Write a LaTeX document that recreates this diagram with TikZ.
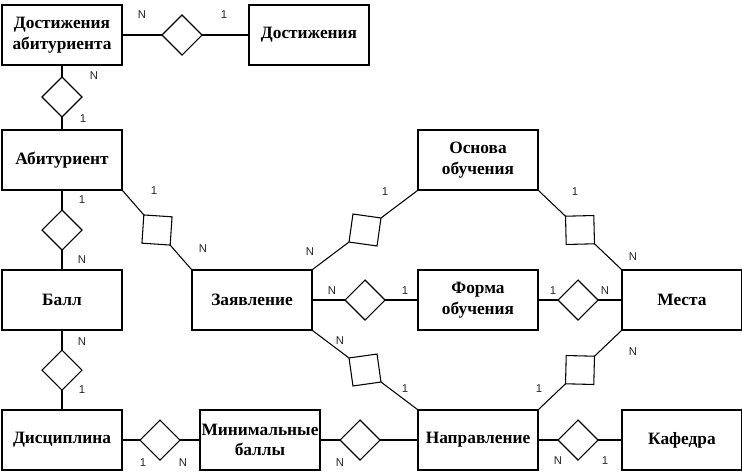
\documentclass[tikz,border=0pt]{standalone}
\usepackage{fontspec}
\setmainfont{Liberation Serif}
\newfontfamily\labelfont{Liberation Sans}
\usetikzlibrary{shapes,shapes.geometric,calc,positioning}

\tikzset{
	entity/.style={draw, line width=0.8pt, minimum width=90pt, minimum height=45pt, inner sep=0pt, align=center, font=\bfseries\fontsize{13}{15.5}\selectfont},
	rel/.style={draw, line width=0.8pt, diamond, aspect=1, minimum size=30pt, inner sep=0pt, outer sep=0pt},
	card/.style={font=\labelfont\fontsize{8.5}{10}\selectfont, text=black!85, inner sep=0pt},
	link/.style={line width=0.8pt}
}

\begin{document}
\begin{tikzpicture}[x=0.75pt, y=-0.75pt]
	\useasboundingbox (0,0) rectangle (742,475);
	% entities
	\node[entity] (da) at (62,35) {Достижения\\абитуриента};
	\node[entity] (dost) at (309,35) {Достижения};
	\node[entity] (abit) at (62,160) {Абитуриент};
	\node[entity] (ball) at (62,300) {Балл};
	\node[entity] (disc) at (62,440) {Дисциплина};
	\node[entity] (minb) at (260,440) {Минимальные\\баллы};
	\node[entity] (zayav) at (252,300) {Заявление};
	\node[entity] (osnova) at (478,160) {Основа\\обучения};
	\node[entity] (forma) at (478,300) {Форма\\обучения};
	\node[entity] (mesta) at (682,300) {Места};
	\node[entity] (naprav) at (478,440) {Направление};
	\node[entity] (kaf) at (682,440) {Кафедра};
	
	% relations
	\node[rel] (r1) at (182,35) {};
	\node[rel] (r2) at (62,97) {};
	\node[rel] (r3) at (62,230) {};
	\node[rel] (r4) at (62,370) {};
	\node[rel] (r5) at (160,440) {};
	\node[rel] (r6) at (360,440) {};
	\node[rel] (r7) at (578,440) {};
	\node[rel] (r8) at (365,300) {};
	\node[rel] (r9) at (578,300) {};
	\node[rel, rotate=-48.8] (r10) at (157,230) {};
	\node[rel, rotate=37] (r11) at (365,230) {};
	\node[rel, rotate=-43.6] (r12) at (580,230) {};
	\node[rel, rotate=-37] (r13) at (365,370) {};
	\node[rel, rotate=43.6] (r14) at (580,370) {};
	
	\path[link] (da) edge (r1) (r1) edge (dost);
	\path[link] (da) edge (r2) (r2) edge (abit);
	\path[link] (abit) edge (r3) (r3) edge (ball);
	\path[link] (ball) edge (r4) (r4) edge (disc);
	\path[link] (disc) edge (r5) (r5) edge (minb);
	\path[link] (minb) edge (r6) (r6) edge (naprav);
	\path[link] (naprav) edge (r7) (r7) edge (kaf);
	\path[link] (zayav) edge (r8) (r8) edge (forma);
	\path[link] (forma) edge (r9) (r9) edge (mesta);
	\path[link] (abit.south east) edge (r10) (r10) edge (zayav.north west);
	\path[link] (zayav.north east) edge (r11) (r11) edge (osnova.south west);
	\path[link] (osnova.south east) edge (r12) (r12) edge (mesta.north west);
	\path[link] (zayav.south east) edge (r13) (r13) edge (naprav.north west);
	\path[link] (mesta.south west) edge (r14) (r14) edge (naprav.north east);
	
	% cardinalities
	\node[card] (c1) at (142,15) {N};
	\node[card] (c2) at (224,15) {1};
	\node[card] (c3) at (94,76) {N};
	\node[card] (c4) at (83,119) {1};
	\node[card] (c5) at (82,200) {1};
	\node[card] (c6) at (82,260) {N};
	\node[card] (c7) at (82,342) {N};
	\node[card] (c8) at (82,390) {1};
	\node[card] (c9) at (143,463) {1};
	\node[card] (c10) at (183,463) {N};
	\node[card] (c11) at (340,463) {N};
	\node[card] (c12) at (558,461) {N};
	\node[card] (c13) at (605,461) {1};
	\node[card] (c14) at (332,291) {N};
	\node[card] (c15) at (405,291) {1};
	\node[card] (c16) at (553,291) {1};
	\node[card] (c17) at (605,291) {N};
	\node[card] (c18) at (154,191) {1};
	\node[card] (c19) at (203,249) {N};
	\node[card] (c20) at (310,252) {N};
	\node[card] (c21) at (385,192) {1};
	\node[card] (c22) at (575,192) {1};
	\node[card] (c23) at (633,257) {N};
	\node[card] (c24) at (340,341) {N};
	\node[card] (c25) at (405,389) {1};
	\node[card] (c26) at (633,352) {N};
	\node[card] (c27) at (539,389) {1};
\end{tikzpicture}
\end{document}
